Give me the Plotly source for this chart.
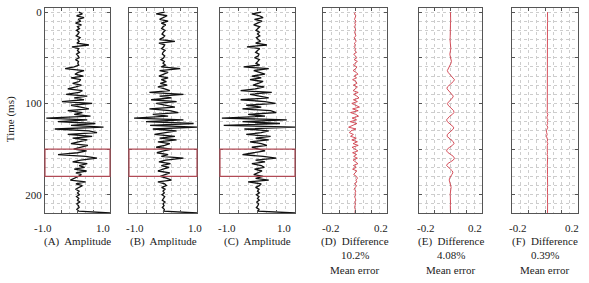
import plotly.graph_objects as go

# ---------------- data ----------------
time_ms = list(range(0, 221, 2))

trace_a = [0.04, 0.15, -0.03, 0.2, 0.02, 0.1, -0.06, 0.12, 0.0, 0.06,
           -0.03, 0.05, 0.02, -0.04, 0.08, 0.01, 0.05, -0.02, 0.35, -0.17,
           0.04, 0.0, 0.06, -0.03, 0.02, 0.05, -0.06, 0.03, 0.01, 0.04,
           -0.1, -0.38, 0.2, 0.02, -0.08, 0.18, -0.2, 0.1, 0.05, -0.15,
           0.12, -0.05, -0.3, 0.15, 0.05, -0.35, 0.3, -0.1, 0.2, -0.48,
           0.45, -0.2, 0.1, 0.35, -0.3, 0.15, -0.1, 0.4, -0.96, 0.3,
           -0.6, 0.55, -0.2, 0.8, -0.7, 0.35, 0.6, -0.3, 0.45, -0.15,
           0.3, 0.05, -0.2, 0.32, 0.1, -0.12, 0.28, 0.0, -0.6, 0.25,
           0.6, 0.1, -0.15, 0.3, 0.05, 0.22, -0.1, 0.28, -0.05, 0.12,
           0.02, -0.08, -0.22, 0.25, -0.05, 0.15, 0.02, -0.06, 0.05, 0.0,
           0.06, -0.03, 0.04, 0.0, 0.07, -0.02, 0.03, 0.05, -0.02, 0.04,
           1.0]

trace_b = [0.05, -0.2, 0.12, 0.02, -0.1, 0.15, -0.05, 0.08, 0.0, -0.04,
           0.06, 0.01, -0.03, 0.05, 0.0, -0.1, 0.35, -0.12, 0.05, 0.02,
           -0.04, 0.06, 0.0, -0.02, 0.05, 0.02, -0.06, 0.04, 0.0, 0.07,
           -0.05, 0.5, -0.1, 0.15, 0.02, -0.12, 0.15, -0.05, 0.1, -0.08,
           0.12, -0.15, 0.05, 0.2, -0.4, 0.6, -0.1, 0.25, -0.35, 0.4,
           -0.2, 0.1, 0.35, -0.4, 0.2, 0.45, -0.3, 0.15, -0.85, 0.6,
           -0.5, 0.9, -0.38, 1.0, -0.3, 0.4, 0.05, -0.25, 0.35, -0.1,
           0.4, -0.15, 0.2, 0.05, -0.2, 0.25, 0.02, -0.18, 0.15, -0.05,
           0.6, 0.08, -0.12, 0.22, -0.05, 0.18, 0.0, -0.15, 0.2, 0.03,
           -0.08, 0.12, 0.25, -0.15, 0.05, 0.1, -0.04, 0.06, 0.0, 0.04,
           -0.03, 0.05, 0.02, -0.02, 0.06, 0.0, 0.03, -0.02, 0.04, 0.02,
           1.0]

trace_c = [0.1, -0.15, 0.05, 0.15, -0.08, 0.12, 0.0, -0.1, 0.06, 0.02,
           -0.04, 0.05, 0.0, 0.06, -0.03, 0.02, 0.08, -0.05, 0.25, -0.28,
           0.06, 0.0, -0.05, 0.04, 0.02, -0.08, 0.05, 0.01, -0.04, 0.06,
           -0.37, 0.3, -0.1, 0.05, 0.2, -0.15, 0.1, -0.2, 0.15, 0.02,
           -0.12, 0.18, -0.05, -0.45, 0.38, -0.2, 0.1, 0.3, -0.45, 0.2,
           0.48, -0.3, 0.1, -0.4, 0.35, 0.5, -0.25, 0.2, -0.95, 0.78,
           -0.4, 0.6, -0.9, 1.0, -0.35, 0.3, 0.1, -0.3, 0.35, -0.05,
           0.3, -0.2, 0.1, 0.25, -0.15, 0.05, 0.2, -0.1, -0.4, 0.15,
           0.5, -0.05, 0.2, -0.15, 0.1, 0.18, -0.08, 0.12, 0.0, -0.1,
           0.15, -0.05, 0.3, -0.25, 0.1, 0.05, -0.05, 0.04, 0.0, 0.05,
           -0.03, 0.04, 0.0, 0.05, -0.02, 0.03, 0.01, -0.03, 0.04, 0.02,
           1.0]

diff_d = [0.003, -0.004, 0.005, 0.0, -0.003, 0.006, -0.002, 0.004, -0.005, 0.002,
          0.004, -0.003, 0.0, 0.006, -0.006, 0.003, 0.008, -0.004, 0.002, -0.006,
          0.005, -0.002, 0.01, -0.008, 0.004, 0.012, -0.006, 0.015, 0.0, -0.01,
          0.012, 0.004, -0.012, 0.008, 0.018, -0.005, 0.01, -0.015, 0.006, 0.012,
          -0.01, 0.015, 0.002, -0.012, 0.02, -0.008, 0.012, 0.025, -0.01, 0.015,
          -0.02, 0.01, 0.028, -0.015, 0.02, -0.028, 0.005, 0.022, -0.018, 0.01,
          -0.03, 0.012, -0.015, -0.04, 0.005, -0.025, -0.035, -0.01, -0.028, 0.008,
          -0.02, 0.015, -0.012, 0.02, -0.018, 0.005, 0.018, -0.015, 0.01, -0.008,
          0.015, -0.012, 0.005, 0.018, -0.01, 0.008, -0.015, 0.012, 0.0, -0.008,
          0.01, 0.015, 0.005, 0.012, -0.004, 0.01, 0.002, -0.006, 0.005, 0.0,
          0.004, -0.003, 0.002, 0.005, -0.002, 0.003, 0.0, -0.003, 0.002, 0.001,
          0.0]

diff_e = [0.0, 0.001, 0.0, -0.001, 0.0, 0.001, 0.0, 0.0, -0.001, 0.0,
          0.001, 0.002, 0.001, 0.0, -0.002, -0.003, -0.002, 0.0, 0.002, 0.003,
          0.002, 0.0, -0.003, -0.004, -0.002, 0.002, 0.005, 0.006, 0.003, -0.002,
          -0.008, -0.015, -0.02, -0.015, -0.005, 0.01, 0.02, 0.025, 0.018, 0.005,
          -0.01, -0.02, -0.022, -0.012, 0.0, 0.012, 0.018, 0.012, 0.0, -0.012,
          -0.02, -0.015, -0.003, 0.01, 0.02, 0.022, 0.012, -0.005, -0.018, -0.025,
          -0.02, -0.005, 0.01, 0.02, 0.018, 0.005, -0.01, -0.02, -0.022, -0.01,
          0.005, 0.018, 0.022, 0.012, -0.005, -0.02, -0.025, -0.015, 0.002, 0.018,
          0.025, 0.018, 0.0, -0.018, -0.025, -0.015, 0.0, 0.012, 0.015, 0.008,
          0.0, -0.006, -0.008, -0.004, 0.0, 0.003, 0.004, 0.002, 0.0, -0.002,
          -0.002, -0.001, 0.0, 0.001, 0.001, 0.0, -0.001, 0.0, 0.0, 0.001,
          0.0]

diff_f = [0.015, 0.016, 0.015, 0.014, 0.015, 0.016, 0.015, 0.015, 0.014, 0.015,
          0.016, 0.015, 0.014, 0.015, 0.016, 0.015, 0.015, 0.014, 0.016, 0.015,
          0.015, 0.014, 0.016, 0.015, 0.013, 0.017, 0.015, 0.014, 0.016, 0.015,
          0.014, 0.016, 0.015, 0.013, 0.017, 0.015, 0.014, 0.016, 0.015, 0.014,
          0.016, 0.015, 0.013, 0.017, 0.015, 0.014, 0.016, 0.013, 0.017, 0.015,
          0.014, 0.017, 0.013, 0.016, 0.014, 0.012, 0.017, 0.014, 0.011, 0.018,
          0.013, 0.016, 0.011, 0.017, 0.012, 0.008, 0.01, 0.013, 0.009, 0.012,
          0.016, 0.012, 0.017, 0.014, 0.013, 0.016, 0.014, 0.015, 0.013, 0.016,
          0.015, 0.014, 0.016, 0.015, 0.014, 0.015, 0.016, 0.015, 0.014, 0.015,
          0.015, 0.016, 0.014, 0.015, 0.015, 0.016, 0.015, 0.014, 0.015, 0.015,
          0.016, 0.015, 0.014, 0.015, 0.015, 0.016, 0.015, 0.015, 0.014, 0.015,
          0.015]

panel_labels = ["(A)  Amplitude", "(B)  Amplitude", "(C)  Amplitude",
                "(D)  Difference", "(E)  Difference", "(F)  Difference"]
amp_tick_labels = ["-1.0", "1.0"]
diff_tick_labels = ["-0.2", "0.2"]
mean_errors = ["10.2%", "4.08%", "0.39%"]
mean_error_label = "Mean error"
y_tick_vals = [0, 50, 100, 150, 200]
y_tick_text = ["0", "", "100", "", "200"]
window_ms = [150, 180]

# ---------------- layout / styles ----------------
W, H = 589, 283
FONT = "Liberation Serif"
panel_px = [(45, 110), (129, 197), (220, 295), (323, 387), (419, 482), (512, 578)]
top_px, bot_px = 6.5, 212.5
ydom = [1 - bot_px / H, 1 - top_px / H]
left_shift = [-2, 6, 7, 7, 6, 5]
right_shift = [-7, -2, -11, -6, -7, -6]

series = [trace_a, trace_b, trace_c, diff_d, diff_e, diff_f]
GRID = "#cdcdcd"

fig = go.Figure()
layout = dict(width=W, height=H, margin=dict(l=0, r=0, t=0, b=0),
              paper_bgcolor="white", plot_bgcolor="white", showlegend=False,
              font=dict(family=FONT, size=11, color="#222"))
annotations = []
shapes = []

for i, vals in enumerate(series):
    n = i + 1
    xa = "xaxis" if n == 1 else f"xaxis{n}"
    ya = "yaxis" if n == 1 else f"yaxis{n}"
    xr = "x" if n == 1 else f"x{n}"
    yr = "y" if n == 1 else f"y{n}"
    amp = i < 3
    lim = 1.0 if amp else 0.2
    x0p, x1p = panel_px[i]
    layout[xa] = dict(domain=[x0p / W, x1p / W], range=[-lim, lim], anchor=yr,
                      showline=True, mirror="ticks", linecolor="#555", linewidth=1,
                      ticks="inside", ticklen=3, tickcolor="#555",
                      tickvals=[-lim / 2, 0, lim / 2], showticklabels=False,
                      showgrid=True, gridcolor=GRID, griddash="dot", gridwidth=1,
                      minor=dict(dtick=lim / 4, showgrid=True, gridcolor=GRID,
                                 griddash="dot", gridwidth=1),
                      zeroline=False, fixedrange=True)
    layout[ya] = dict(domain=ydom, range=[220, -4], anchor=xr,
                      showline=True, mirror="ticks", linecolor="#555", linewidth=1,
                      ticks="inside", ticklen=3, tickcolor="#555",
                      tickvals=y_tick_vals, ticktext=y_tick_text,
                      showticklabels=(n == 1),
                      tickfont=dict(family=FONT, size=11, color="#222"),
                      showgrid=True, gridcolor=GRID, griddash="dot", gridwidth=1,
                      minor=dict(dtick=10, showgrid=True, gridcolor=GRID,
                                 griddash="dot", gridwidth=1),
                      zeroline=False, fixedrange=True)
    fig.add_trace(go.Scatter(x=vals, y=time_ms, mode="lines", xaxis=xr, yaxis=yr,
                             cliponaxis=True,
                             line=dict(color="#111" if amp else "#d03c4a",
                                       width=1.3 if amp else 0.9)))
    if amp:
        shapes.append(dict(type="rect", xref=f"{xr} domain", yref=yr,
                           x0=0, x1=1, y0=window_ms[0], y1=window_ms[1],
                           line=dict(color="#b04a55", width=1.2), layer="above"))
    labs = amp_tick_labels if amp else diff_tick_labels
    annotations.append(dict(x=-lim, xref=xr, y=1 - 228 / H, yref="paper",
                            text=labs[0], showarrow=False, xanchor="center",
                            yanchor="middle", xshift=left_shift[i],
                            font=dict(family=FONT, size=11, color="#222")))
    annotations.append(dict(x=lim, xref=xr, y=1 - 228 / H, yref="paper",
                            text=labs[1], showarrow=False, xanchor="center",
                            yanchor="middle", xshift=right_shift[i],
                            font=dict(family=FONT, size=11, color="#222")))
    annotations.append(dict(x=0.5, xref=f"{xr} domain", y=1 - 241 / H, yref="paper",
                            text=panel_labels[i], showarrow=False, xanchor="center",
                            yanchor="middle",
                            font=dict(family=FONT, size=11, color="#222")))
    if not amp:
        annotations.append(dict(x=0.5, xref=f"{xr} domain", y=1 - 255 / H, yref="paper",
                                text=mean_errors[i - 3], showarrow=False,
                                xanchor="center", yanchor="middle",
                                font=dict(family=FONT, size=11, color="#222")))
        annotations.append(dict(x=0.5, xref=f"{xr} domain", y=1 - 270 / H, yref="paper",
                                text=mean_error_label, showarrow=False,
                                xanchor="center", yanchor="middle",
                                font=dict(family=FONT, size=11, color="#222")))

annotations.append(dict(x=10 / W, xref="paper", y=1 - 118 / H, yref="paper",
                        text="Time (ms)", showarrow=False, textangle=-90,
                        xanchor="center", yanchor="middle",
                        font=dict(family=FONT, size=11, color="#222")))

layout["annotations"] = annotations
layout["shapes"] = shapes
fig.update_layout(**layout)
fig.write_html("out.html", config={"displayModeBar": False},
               post_script="document.body.style.margin='0';document.body.style.overflow='hidden';")
